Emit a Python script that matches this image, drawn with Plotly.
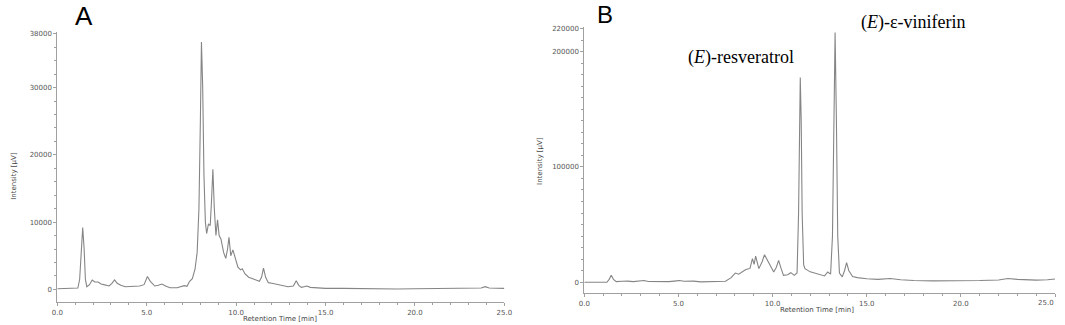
import plotly.graph_objects as go

# ---------------- Data ----------------
time_A = [0.0, 1.0, 1.15, 1.25, 1.33, 1.42, 1.50, 1.57, 1.65, 1.80, 1.95, 2.10, 2.28, 2.45, 2.6, 2.9,
          3.05, 3.2, 3.35, 3.55, 3.8, 4.2, 4.6, 4.85, 5.04, 5.2, 5.45, 5.65, 5.85, 6.05, 6.3, 6.7,
          6.95, 7.1, 7.25, 7.4, 7.55, 7.7, 7.82, 7.92, 8.0, 8.06, 8.13, 8.2, 8.28, 8.35, 8.45, 8.55,
          8.62, 8.70, 8.78, 8.87, 8.96, 9.05, 9.15, 9.30, 9.42, 9.52, 9.60, 9.70, 9.82, 9.95, 10.1,
          10.25, 10.34, 10.5, 10.7, 11.0, 11.3, 11.42, 11.53, 11.65, 11.8, 12.0, 12.3, 12.6, 12.9,
          13.2, 13.36, 13.5, 13.65, 13.8, 13.96, 14.15, 14.5, 15, 16, 17, 18, 19, 20, 21, 22, 23,
          23.7, 23.93, 24.15, 25]
intensity_A = [100, 100, 200, 1500, 6000, 9200, 6000, 1500, 400, 700, 1400, 1100, 1100, 800, 700, 500,
               900, 1400, 900, 600, 400, 500, 500, 700, 1900, 1200, 500, 600, 800, 500, 250, 250,
               400, 550, 450, 1200, 1600, 3000, 5500, 12000, 25000, 36800, 30000, 17000, 10000, 8300, 9700, 9500,
               13000, 17850, 12000, 8000, 10350, 8000, 7500, 5500, 4600, 6000, 7740, 5000, 5870, 4500, 3300,
               2900, 3060, 2300, 1800, 1500, 1200, 1800, 3150, 1800, 1000, 900, 700, 500, 400,
               500, 1290, 600, 300, 400, 500, 300, 200, 150, 150, 100, 50, 50, 100, 100, 150, 150,
               200, 400, 200, 150]

time_B = [0, 1.2, 1.32, 1.43, 1.55, 1.7, 2.0, 2.3, 2.6, 3.0, 3.17, 3.4, 4.0, 4.5, 4.9, 5.05, 5.3, 5.8,
          6.2, 7.0, 7.5, 7.8, 8.02, 8.2, 8.4, 8.58, 8.8, 8.93, 9.02, 9.1, 9.27, 9.45, 9.57, 9.7, 9.85,
          10.06, 10.2, 10.32, 10.45, 10.58, 10.8, 10.97, 11.15, 11.3, 11.38, 11.43, 11.47, 11.52, 11.57,
          11.65, 11.72, 12.0, 12.4, 12.76, 12.93, 13.08, 13.18, 13.25, 13.32, 13.39, 13.46, 13.55, 13.7,
          13.82, 13.93, 14.05, 14.25, 14.5, 15.0, 15.6, 16.25, 16.8, 17.5, 18.5, 20, 21, 22, 22.5, 23,
          24, 24.6, 25]
intensity_B = [0, 0, 2500, 6000, 2500, 500, 800, 1000, 500, 800, 1500, 600, 500, 500, 1200, 1500, 800, 1000,
               300, 300, 800, 4000, 8000, 7000, 9000, 11000, 12000, 20400, 15500, 22700, 11800, 18000, 23900, 20000, 16000,
               8900, 13000, 19000, 12000, 6000, 6500, 8300, 6000, 8000, 60000, 140000, 177600, 140000, 60000,
               15000, 11800, 9000, 7000, 5500, 8900, 7000, 40000, 140000, 216600, 140000, 40000, 8000, 4600,
               10000, 17000, 10000, 5000, 4000, 3000, 2500, 3200, 2200, 1500, 1200, 1200, 1500, 2000, 3200, 2500,
               1800, 2200, 2800]

x_ticks = [0, 5, 10, 15, 20, 25]
x_tick_labels = ["0.0", "5.0", "10.0", "15.0", "20.0", "25.0"]
y_ticks_A = [0, 10000, 20000, 30000, 38000]
y_ticks_B = [0, 100000, 200000, 220000]

panel_labels = ["A", "B"]
peak_labels = ["(<i>E</i>)-resveratrol", "(<i>E</i>)-ε-viniferin"]

# ---------------- Figure ----------------
W, H = 1065, 325
line_col = "#858585"
axis_col = "#a0a0a0"
tick_font = dict(family="DejaVu Sans", size=7, color="#555555")

fig = go.Figure()
fig.add_trace(go.Scatter(x=time_A, y=intensity_A, mode="lines",
                         line=dict(color=line_col, width=1.1), xaxis="x", yaxis="y", showlegend=False))
fig.add_trace(go.Scatter(x=time_B, y=intensity_B, mode="lines",
                         line=dict(color=line_col, width=1.1), xaxis="x2", yaxis="y2", showlegend=False))

def xaxis_cfg(domain, anchor, labels):
    return dict(domain=domain, anchor=anchor, range=[0, 25], showgrid=False, zeroline=False,
                showline=True, linecolor=axis_col, linewidth=1,
                tickmode="array", tickvals=x_ticks, ticktext=labels,
                ticks="outside", ticklen=3, tickcolor=axis_col, tickfont=tick_font,
                minor=dict(dtick=1, ticks="outside", ticklen=2, tickcolor=axis_col))

def yaxis_cfg(domain, anchor, rng, vals, dminor):
    return dict(domain=domain, anchor=anchor, range=rng, showgrid=False, zeroline=False,
                showline=True, linecolor=axis_col, linewidth=1,
                tickmode="array", tickvals=vals, ticktext=[str(v) for v in vals],
                ticks="outside", ticklen=3, tickcolor=axis_col, tickfont=tick_font,
                minor=dict(dtick=dminor, ticks="outside", ticklen=2, tickcolor=axis_col))

# pixel -> paper helpers
px = lambda v: v / W
py = lambda v: 1 - v / H

# panel B: last tick label sits at the right edge, drawn right-aligned as an annotation
labels_B = x_tick_labels[:-1] + [""]

fig.update_layout(
    width=W, height=H,
    margin=dict(l=0, r=0, t=0, b=0),
    paper_bgcolor="white", plot_bgcolor="white",
    xaxis=xaxis_cfg([px(52), px(505)], "y", x_tick_labels),
    yaxis=yaxis_cfg([py(302), py(30)], "x", [-1900, 38300], y_ticks_A, 2000),
    xaxis2=xaxis_cfg([px(586), px(1063)], "y2", labels_B),
    yaxis2=yaxis_cfg([py(293), py(25)], "x2", [-9500, 221500], y_ticks_B, 10000),
)

def ann(x, y, text, font, angle=0, xanchor="center"):
    fig.add_annotation(x=px(x), y=py(y), xref="paper", yref="paper", text=text,
                       showarrow=False, font=font, textangle=angle,
                       xanchor=xanchor, yanchor="middle")

ann(1064, 303, x_tick_labels[-1], tick_font, xanchor="right")

# axis titles
small = dict(family="DejaVu Sans", size=7, color="#444444")
ann(278, 319, "Retention Time [min]", small)
ann(822, 310, "Retention Time [min]", small)
ann(8, 175, "Intensity [μV]", small, -90)
ann(541, 160, "Intensity [μV]", small, -90)

# panel letters
ann(79, 14, panel_labels[0], dict(family="Liberation Sans", size=26, color="black"))
ann(607, 13, panel_labels[1], dict(family="Liberation Sans", size=24, color="black"))

# peak labels
serif = dict(family="Liberation Serif", size=18, color="black")
ann(745, 56, peak_labels[0], serif)
ann(920, 21, peak_labels[1], serif)

fig.write_html("out.html", config={"displayModeBar": False},
               post_script="document.body.style.margin='0';")
